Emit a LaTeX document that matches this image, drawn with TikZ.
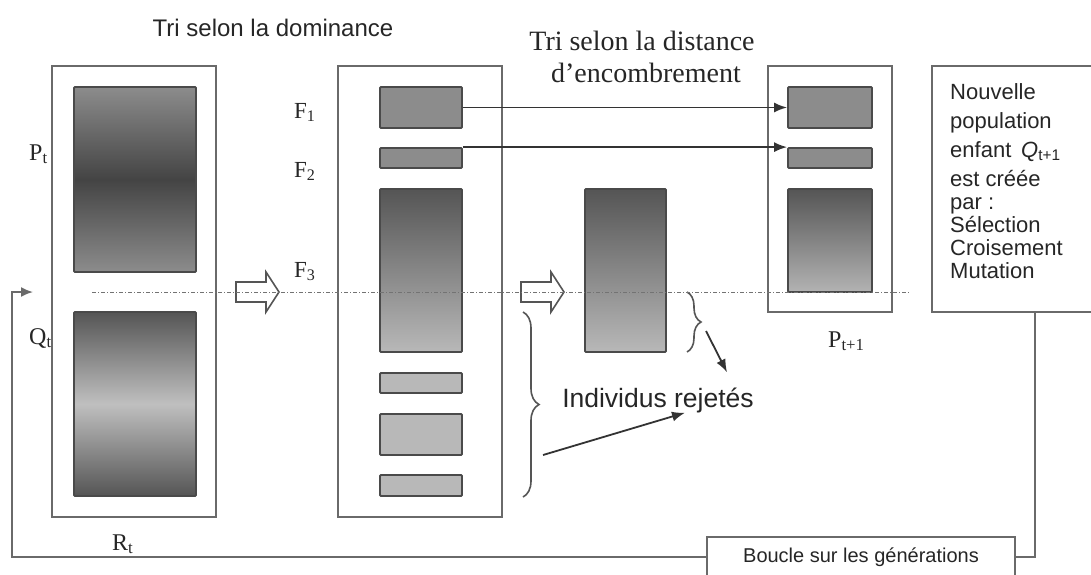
\documentclass[tikz,border=0pt]{standalone}
\usepackage{fontspec}
\setmainfont{Liberation Serif}
\setsansfont{Liberation Sans}
\usetikzlibrary{fit,positioning,arrows.meta,decorations.pathreplacing}

\definecolor{trait}{HTML}{6A6A6A}
\definecolor{bord}{HTML}{4A4A4A}
\definecolor{fonce}{HTML}{555555}
\definecolor{moyen}{HTML}{8C8C8C}
\definecolor{clair}{HTML}{B8B8B8}
\definecolor{sombre}{HTML}{444444}

\tikzset{
  cadre/.style={draw=trait, line width=1.6pt, inner sep=0pt},
  barre/.style={draw=bord, line width=1.8pt, rounded corners=1pt, inner sep=0pt},
  front/.style={barre, fill=moyen},
  rejete/.style={barre, fill=clair},
  degrade/.style={barre, top color=fonce, bottom color=clair},
  fleche/.style={draw=black!80, line width=1.8pt, -{Latex[length=13pt,width=10pt]}},
  creux/.style={draw=fonce, fill=white, line width=1.6pt},
  pointille/.style={draw=black!55, line width=0.7pt, dash pattern=on 4pt off 2pt on 1pt off 2pt},
  accolade/.style={decorate, draw=fonce, line width=1.6pt},
  etiq/.style={font=\fontsize{23}{26}\selectfont, text=black!85, inner sep=0pt},
  texte/.style={font=\sffamily\fontsize{22}{23}\selectfont, text=black!85, inner sep=0pt},
}

\begin{document}
\begin{tikzpicture}[x=1pt,y=-1pt]
  \path[use as bounding box, fill=white] (0,0) rectangle (1091,574);

  % titres
  \node[texte, font=\sffamily\fontsize{24}{26}\selectfont, anchor=base] (tri1) at (273,36) {Tri selon la dominance};
  \node[etiq, font=\fontsize{28}{32}\selectfont, anchor=base] (tri2) at (642,50) {Tri selon la distance};
  \node[etiq, font=\fontsize{28}{32}\selectfont, anchor=base] (tri3) at (646,82) {d'encombrement};

  % R_t = P_t + Q_t
  \node[cadre, fit={(52,66) (216,517)}] (Rt) {};
  \node[barre, top color=moyen, bottom color=moyen, middle color=sombre, fit={(74,87) (196,272)}] (Pt) {};
  \node[barre, top color=fonce, bottom color=fonce, middle color=black!25, fit={(74,312) (196,496)}] (Qt) {};
  \node[etiq, font=\fontsize{24}{26}\selectfont, anchor=base west] (lPt) at (29,160) {P\textsubscript{t}};
  \node[etiq, font=\fontsize{24}{26}\selectfont, anchor=base west] (lQt) at (29,344) {Q\textsubscript{t}};
  \node[etiq, font=\fontsize{24}{26}\selectfont, anchor=base west] (lRt) at (112,550) {R\textsubscript{t}};

  % fronts
  \node[cadre, fit={(338,66) (502,517)}] (F) {};
  \node[front, fit={(380,87) (462,128)}] (F1) {};
  \node[front, fit={(380,148) (462,168)}] (F2) {};
  \node[degrade, fit={(380,189) (462,352)}] (F3) {};
  \foreach \ya/\yb [count=\i] in {373/393, 414/455, 475/496}
    \node[rejete, fit={(380,\ya) (462,\yb)}] (R\i) {};
  \foreach \i/\yl in {1/118, 2/177, 3/277}
    \node[etiq, anchor=base west] (lF\i) at (294,\yl) {F\textsubscript{\i}};

  % F3 trie
  \node[degrade, fit={(585,189) (666,352)}] (F3t) {};

  % P_{t+1}
  \node[cadre, fit={(768,66) (892,312)}] (Pn) {};
  \node[front, fit={(788,87) (872,128)}] (F1p) {};
  \node[front, fit={(788,148) (872,168)}] (F2p) {};
  \node[barre, top color=fonce, bottom color=black!30, fit={(788,189) (872,292)}] (F3p) {};
  \node[etiq, font=\fontsize{24}{26}\selectfont, anchor=base west] (lPn) at (828,347) {P\textsubscript{t+1}};

  \draw[fleche] (F1.east) -- (F1p.west);
  \draw[fleche] (F2.north east) -- (F2p.north west);

  % nouvelle population
  \node[cadre, fit={(932,66) (1138,312)}] (nouv) {};
  \node[texte, align=left, anchor=north west] (txt) at (950,83)
    {Nouvelle\\[6pt] population\\[6pt] enfant \,\textit{Q}\textsubscript{t+1}\\[6pt] est créée\\ par :\\ Sélection\\ Croisement\\ Mutation};

  % individus rejetes
  \draw[accolade, decoration={brace, amplitude=16pt}] (523,312) -- (523,497);
  \draw[accolade, decoration={brace, amplitude=14pt}] (687,292) -- (687,352);
  \node[texte, font=\sffamily\fontsize{26.5}{28}\selectfont, anchor=base] (rej) at (658,407) {Individus rejetés};
  \coordinate (acc1) at (543,455);
  \coordinate (acc2) at (706,331);
  \draw[fleche] (acc1) -- ([xshift=27pt]rej.south);
  \draw[fleche] (acc2) -- ([xshift=69pt, yshift=15pt]rej.north);

  % fleches creuses
  \foreach \ax in {236,521}
    \draw[creux] (\ax,282) -- ++(30,0) -- ++(0,-10) -- ++(13,20) -- ++(-13,20) -- ++(0,-10) -- ++(-30,0) -- cycle;

  % boucle
  \node[cadre, font=\sffamily\fontsize{20}{22}\selectfont, text=black!85, minimum width=308pt, minimum height=40pt] (boucle) at (861,557) {Boucle sur les générations};
  \coordinate (coin) at (12,292);
  \coordinate (retour) at (33,292);
  \draw[draw=trait, line width=1.8pt] (nouv.south) |- (boucle.east);
  \draw[draw=trait, line width=1.8pt, -{Latex[length=12pt,width=10pt]}] (boucle.west) -| (coin) -- (retour);

  \draw[pointille] (92,292) -- (910,292);
\end{tikzpicture}
\end{document}
